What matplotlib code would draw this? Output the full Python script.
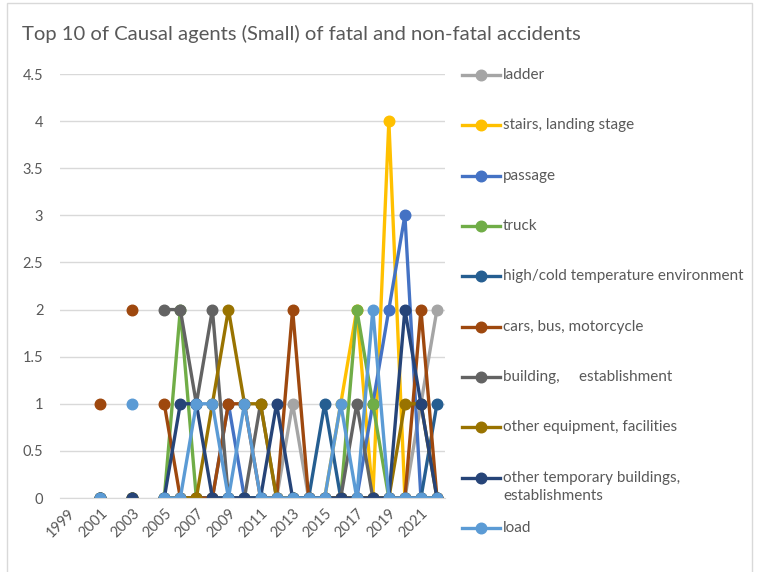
import matplotlib
matplotlib.use("Agg")
import matplotlib.pyplot as plt
import numpy as np
from matplotlib.lines import Line2D
from matplotlib.patches import Rectangle

nan = np.nan

years = list(range(1999, 2023))

# one value per year 1999..2022, nan = no data that year
ladder = [nan, nan, 0, nan, 0, nan, 0, 0, 0, 0, 0, 0, 0, 0, 1, 0, 0, 0, 0, 0, 0, 0, 1, 2]
stairs = [nan, nan, 0, nan, 0, nan, 0, 0, 0, 0, 0, 0, 0, 0, 0, 0, 0, 1, 2, 0, 4, 0, 0, 0]
passage = [nan, nan, 0, nan, 0, nan, 0, 0, 0, 0, 1, 0, 0, 0, 0, 0, 0, 0, 0, 1, 2, 3, 0, 0]
truck = [nan, nan, 0, nan, 0, nan, 0, 2, 0, 0, 0, 0, 0, 0, 0, 0, 0, 0, 2, 1, 0, 0, 0, 0]
high_cold = [nan, nan, 0, nan, 0, nan, 0, 0, 0, 0, 0, 0, 0, 0, 0, 0, 1, 0, 0, 0, 0, 0, 0, 1]
cars = [nan, nan, 1, nan, 2, nan, 1, 0, 0, 0, 1, 1, 0, 0, 2, 0, 0, 0, 0, 0, 0, 0, 2, 0]
building = [nan, nan, 0, nan, 0, nan, 2, 2, 1, 2, 0, 0, 1, 0, 0, 0, 0, 0, 1, 0, 0, 0, 0, 0]
other_equipment = [nan, nan, 0, nan, 0, nan, 0, 0, 0, 1, 2, 1, 1, 0, 0, 0, 0, 0, 0, 0, 0, 1, 1, 0]
other_temporary = [nan, nan, 0, nan, 0, nan, 0, 1, 1, 0, 0, 0, 0, 1, 0, 0, 0, 0, 0, 0, 0, 2, 1, 0]
load = [nan, nan, 0, nan, 1, nan, 0, 0, 1, 1, 0, 1, 0, 0, 0, 0, 0, 1, 0, 2, 0, 0, 0, 0]

labels = [
    "ladder",
    "stairs, landing stage",
    "passage",
    "truck",
    "high/cold temperature environment",
    "cars, bus, motorcycle",
    "building,     establishment",
    "other equipment, facilities",
    "other temporary buildings,\nestablishments",
    "load",
]
series = [ladder, stairs, passage, truck, high_cold, cars, building,
          other_equipment, other_temporary, load]
colors = ["#A5A5A5", "#FFC000", "#4472C4", "#70AD47", "#255E91",
          "#9E480E", "#636363", "#997300", "#264478", "#5B9BD5"]

W, H = 760, 572
text_color = "#595959"
plt.rcParams["font.family"] = ["Lato", "DejaVu Sans"]

fig = plt.figure(figsize=(W / 100, H / 100), dpi=100)
fig.patches.append(Rectangle((7 / W, -0.02), 745 / W, 1.0 - 3 / H + 0.02,
                             transform=fig.transFigure, fill=False,
                             edgecolor="#D9D9D9", linewidth=1))

ax = fig.add_axes([60 / W, 1 - 498 / H, 385 / W, 424 / H])
x = np.arange(len(years))
for vals, color in zip(series, colors):
    ax.plot(x, vals, color=color, linewidth=2.4, marker="o", markersize=7.6,
            solid_capstyle="round")

ax.set_xlim(-0.5, len(years) - 0.5)
ax.set_ylim(0, 4.5)
ax.set_yticks(np.arange(0, 4.51, 0.5))
ax.set_yticklabels(["0", "0.5", "1", "1.5", "2", "2.5", "3", "3.5", "4", "4.5"])
ax.set_xticks(x[::2])
ax.set_xticklabels([str(y) for y in years[::2]], rotation=45, ha="right",
                   va="top", rotation_mode="anchor")
ax.tick_params(length=0, colors=text_color, labelsize=10.5)
ax.tick_params(axis="y", pad=12)
ax.tick_params(axis="x", pad=6)
ax.grid(axis="y", color="#D9D9D9", linewidth=1)
ax.set_axisbelow(True)
for side in ["top", "right", "left"]:
    ax.spines[side].set_visible(False)
ax.spines["bottom"].set_color("#D9D9D9")

fig.text(22 / W, 1 - 34 / H, "Top 10 of Causal agents (Small) of fatal and non-fatal accidents",
         fontsize=14.6, color=text_color, ha="left", va="center")

# legend on the right, one row every ~50 px
for i, (label, color) in enumerate(zip(labels, colors)):
    yp = 1 - (75 + i * 50.35) / H
    fig.add_artist(Line2D([462 / W, 500 / W], [yp, yp], color=color, linewidth=2.4,
                          transform=fig.transFigure))
    fig.add_artist(Line2D([481 / W], [yp], color=color, marker="o", markersize=7.6,
                          transform=fig.transFigure))
    fig.text(503 / W, yp + 7 / H, label, fontsize=11, color=text_color,
             ha="left", va="top", linespacing=1.4)

fig.savefig("out.png", dpi=100)
